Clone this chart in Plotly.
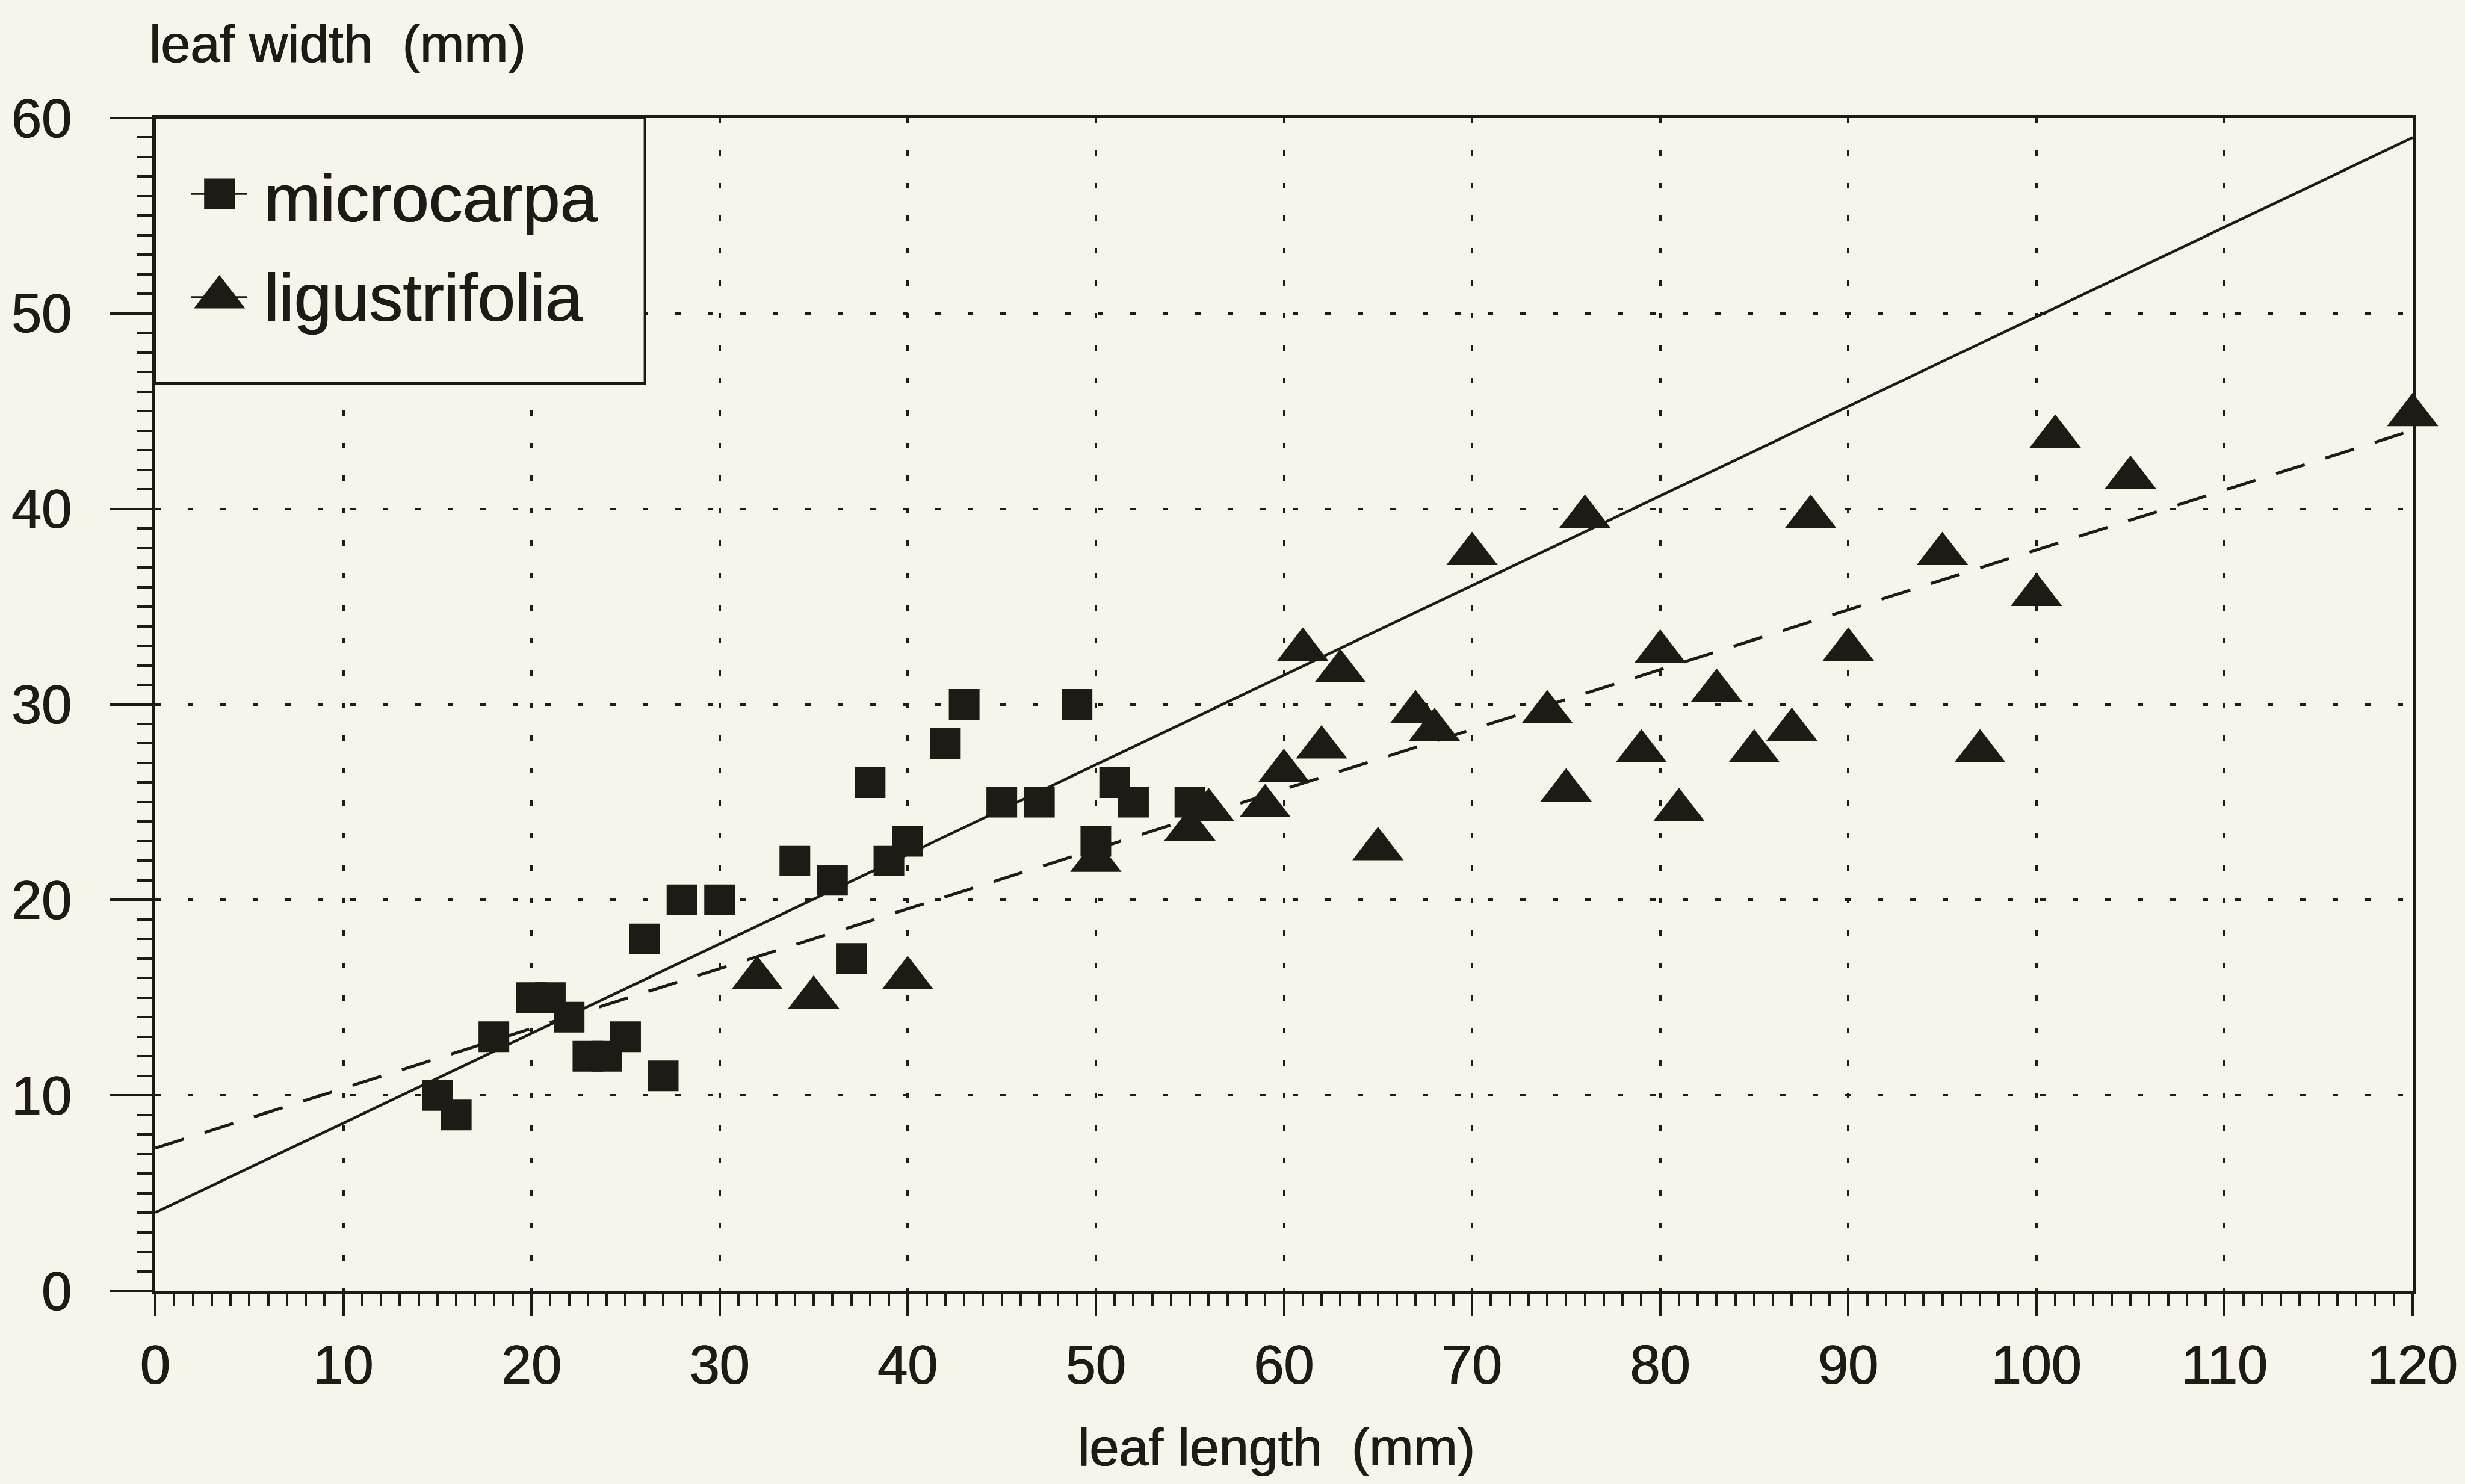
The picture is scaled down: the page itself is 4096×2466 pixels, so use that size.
import plotly.graph_objects as go

# ---------------- data ----------------
micro_x = [15, 16, 18, 20, 21, 22, 23, 24, 25, 26, 27, 28, 30, 34, 36, 37, 38, 39, 40, 42, 43, 45, 47, 49, 50, 51, 52, 55]
micro_y = [10, 9, 13, 15, 15, 14, 12, 12, 13, 18, 11, 20, 20, 22, 21, 17, 26, 22, 23, 28, 30, 25, 25, 30, 23, 26, 25, 25]

lig_x = [32, 35, 40, 50, 55, 56, 59, 60, 61, 62, 63, 65, 67, 68, 70, 74, 75, 76, 79, 80, 81, 83, 85, 87, 88, 90, 95, 97, 100, 101, 105, 120]
lig_y = [16, 15, 16, 22, 23.6, 24.6, 24.8, 26.6, 32.8, 27.8, 31.7, 22.6, 29.6, 28.7, 37.7, 29.6, 25.6, 39.6, 27.6, 32.7, 24.6, 30.7, 27.6, 28.7, 39.6, 32.8, 37.7, 27.6, 35.6, 43.7, 41.6, 44.8]

# regression lines (intercept, slope) and x extent
solid_intercept, solid_slope = 4.0, 0.4583
dashed_intercept, dashed_slope = 7.3, 0.306
line_x = [0, 120]

x_ticks = [0, 10, 20, 30, 40, 50, 60, 70, 80, 90, 100, 110, 120]
y_ticks = [0, 10, 20, 30, 40, 50, 60]

series_names = ["microcarpa", "ligustrifolia"]
x_title = "leaf length\u00a0\u00a0(mm)"
y_title = "leaf width\u00a0\u00a0(mm)"

# ---------------- style ----------------
INK = "#1e1a16"
BG = "#f7f5ea"
FONT = "Liberation Sans, Arial, Helvetica, sans-serif"
SHADOW = "0.7px 0 0 #1e1a16, -0.7px 0 0 #1e1a16"
W, H = 4096, 2466
L, R, T, B = 258, 76, 196, 321
PW, PH = W - L - R, H - T - B


def px_x(px):
    return (px - L) / PW


def px_y(py):
    return 1 - (py - T) / PH


def tfont(size):
    return dict(size=size, color=INK, family=FONT, shadow=SHADOW)


fig = go.Figure()

fig.add_trace(go.Scatter(
    x=line_x, y=[solid_intercept + solid_slope * v for v in line_x],
    mode="lines", line=dict(color=INK, width=4.5), showlegend=False, hoverinfo="skip"))
fig.add_trace(go.Scatter(
    x=line_x, y=[dashed_intercept + dashed_slope * v for v in line_x],
    mode="lines", line=dict(color=INK, width=5, dash="50px,36px"), showlegend=False, hoverinfo="skip"))

fig.add_trace(go.Scatter(
    x=micro_x, y=micro_y, mode="markers", name=series_names[0],
    marker=dict(symbol="square", size=51, color=INK, line=dict(width=0)),
    cliponaxis=False, showlegend=False))
fig.add_trace(go.Scatter(
    x=lig_x, y=lig_y, mode="markers", name=series_names[1],
    marker=dict(symbol="triangle-up", size=74, color=INK, line=dict(width=0)),
    cliponaxis=False, showlegend=False))

# ---- custom legend drawn on an overlay axis pair in plot-fraction units ----
box_x0, box_x1 = 0, px_x(1074)
box_y0, box_y1 = px_y(637), 1
fig.add_trace(go.Scatter(
    x=[box_x0, box_x1, box_x1, box_x0, box_x0],
    y=[box_y0, box_y0, box_y1, box_y1, box_y0],
    mode="lines", fill="toself", fillcolor=BG, xaxis="x2", yaxis="y2",
    line=dict(color=INK, width=4), showlegend=False, hoverinfo="skip", cliponaxis=False))

leg_line_x = [px_x(318), px_x(411)]
leg_mid_x = px_x(365)
leg_rows_y = [px_y(322), px_y(494)]
leg_symbols = ["square", "triangle-up"]
leg_sizes = [51, 74]
for yy, sym, sz in zip(leg_rows_y, leg_symbols, leg_sizes):
    fig.add_trace(go.Scatter(
        x=leg_line_x, y=[yy, yy], mode="lines", xaxis="x2", yaxis="y2",
        line=dict(color=INK, width=3.5), showlegend=False, hoverinfo="skip"))
    fig.add_trace(go.Scatter(
        x=[leg_mid_x], y=[yy], mode="markers", xaxis="x2", yaxis="y2",
        marker=dict(symbol=sym, size=sz, color=INK), showlegend=False, hoverinfo="skip",
        cliponaxis=False))

annotations = [
    dict(text=series_names[0], xref="paper", yref="paper", x=px_x(438), y=px_y(330),
         xanchor="left", yanchor="middle", showarrow=False, font=tfont(112)),
    dict(text=series_names[1], xref="paper", yref="paper", x=px_x(438), y=px_y(495),
         xanchor="left", yanchor="middle", showarrow=False, font=tfont(112)),
    dict(text=y_title, xref="paper", yref="paper", x=px_x(246), y=px_y(72),
         xanchor="left", yanchor="middle", showarrow=False, font=tfont(88)),
    dict(text=x_title, xref="paper", yref="paper", x=px_x(2126), y=px_y(2404),
         xanchor="center", yanchor="middle", showarrow=False, font=tfont(88)),
]

axis_common = dict(
    showline=True, linecolor=INK, linewidth=4.5, mirror=True,
    showgrid=True, gridcolor=INK, gridwidth=4,
    zeroline=False, ticks="outside", tickcolor=INK, tickwidth=4,
    tickfont=tfont(90),
)

fig.update_layout(
    width=W, height=H,
    margin=dict(l=L, r=R, t=T, b=B, pad=0),
    paper_bgcolor=BG, plot_bgcolor=BG,
    showlegend=False,
    xaxis=dict(range=[0, 120], tickvals=x_ticks, ticklen=37,
               griddash="9px,45px", ticklabelstandoff=4,
               minor=dict(dtick=1, tick0=0, ticks="outside", ticklen=21, tickcolor=INK, tickwidth=3.5, showgrid=False),
               **axis_common),
    yaxis=dict(range=[0, 60], tickvals=y_ticks, ticklen=70,
               griddash="9px,45px", ticklabelstandoff=46,
               minor=dict(dtick=1, tick0=0, ticks="outside", ticklen=26, tickcolor=INK, tickwidth=3.5, showgrid=False),
               **axis_common),
    xaxis2=dict(overlaying="x", range=[0, 1], visible=False, fixedrange=True),
    yaxis2=dict(overlaying="y", range=[0, 1], visible=False, fixedrange=True),
    annotations=annotations,
    font=dict(family=FONT, color=INK),
)

fig.write_html("out.html", config={"displayModeBar": False},
               post_script="document.body.style.margin='0';document.body.style.overflow='hidden';")
